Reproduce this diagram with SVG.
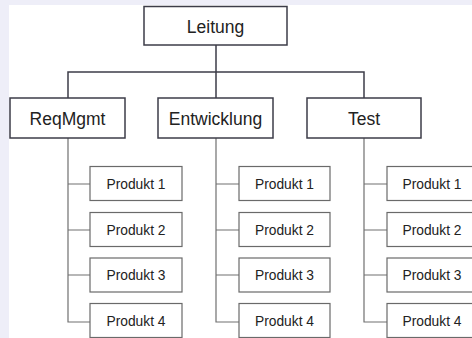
<svg xmlns="http://www.w3.org/2000/svg" width="472" height="338" viewBox="0 0 472 338">
<style>
.top{fill:#fff;stroke:#3c3c48;stroke-width:1.5}
.prod{fill:#fff;stroke:#6a6a6a;stroke-width:1.2}
.t1{font-family:"Liberation Sans",Arial,sans-serif;font-size:17.5px;fill:#222;text-anchor:middle}
.t2{font-family:"Liberation Sans",Arial,sans-serif;font-size:13.8px;fill:#222;text-anchor:middle}
.c1{fill:none;stroke:#3c3c48;stroke-width:1.5}
.c2{fill:none;stroke:#707070;stroke-width:1.2}
</style>
<rect x="0" y="0" width="472" height="338" fill="#eeeef8"/>
<rect x="9" y="5" width="463" height="333" fill="#ffffff"/>
<g id="connectors">
<path class="c1" d="M216 45 V72 M68 98 V72 H364 V98 M216 72 V98"/>
<path class="c2" d="M68 138 V322 H90 M68 184 H90 M68 230 H90 M68 275 H90"/>
<path class="c2" d="M216 138 V322 H239 M216 184 H239 M216 230 H239 M216 275 H239"/>
<path class="c2" d="M364 138 V322 H387 M364 184 H387 M364 230 H387 M364 275 H387"/>
</g>
<g id="leitung"><rect class="top" x="144" y="6.5" width="143" height="38.5"/><text class="t1" x="215.5" y="33">Leitung</text></g>
<g id="reqmgmt"><rect class="top" x="10" y="98" width="115" height="40"/><text class="t1" x="67.5" y="125">ReqMgmt</text></g>
<g id="entwicklung"><rect class="top" x="158" y="98" width="115" height="40"/><text class="t1" x="215.5" y="125">Entwicklung</text></g>
<g id="test"><rect class="top" x="307" y="98" width="114" height="40"/><text class="t1" x="364" y="125">Test</text></g>
<g id="r1"><rect class="prod" x="90" y="166.5" width="92" height="34"/><text class="t2" x="136" y="188.5">Produkt 1</text></g>
<g id="r2"><rect class="prod" x="90" y="212.5" width="92" height="34"/><text class="t2" x="136" y="234.5">Produkt 2</text></g>
<g id="r3"><rect class="prod" x="90" y="258" width="92" height="34"/><text class="t2" x="136" y="280">Produkt 3</text></g>
<g id="r4"><rect class="prod" x="90" y="303.5" width="92" height="34"/><text class="t2" x="136" y="325.5">Produkt 4</text></g>
<g id="e1"><rect class="prod" x="239" y="166.5" width="91" height="34"/><text class="t2" x="284.5" y="188.5">Produkt 1</text></g>
<g id="e2"><rect class="prod" x="239" y="212.5" width="91" height="34"/><text class="t2" x="284.5" y="234.5">Produkt 2</text></g>
<g id="e3"><rect class="prod" x="239" y="258" width="91" height="34"/><text class="t2" x="284.5" y="280">Produkt 3</text></g>
<g id="e4"><rect class="prod" x="239" y="303.5" width="91" height="34"/><text class="t2" x="284.5" y="325.5">Produkt 4</text></g>
<g id="s1"><rect class="prod" x="387" y="166.5" width="92" height="34"/><text class="t2" x="432" y="188.5">Produkt 1</text></g>
<g id="s2"><rect class="prod" x="387" y="212.5" width="92" height="34"/><text class="t2" x="432" y="234.5">Produkt 2</text></g>
<g id="s3"><rect class="prod" x="387" y="258" width="92" height="34"/><text class="t2" x="432" y="280">Produkt 3</text></g>
<g id="s4"><rect class="prod" x="387" y="303.5" width="92" height="34"/><text class="t2" x="432" y="325.5">Produkt 4</text></g>
</svg>
